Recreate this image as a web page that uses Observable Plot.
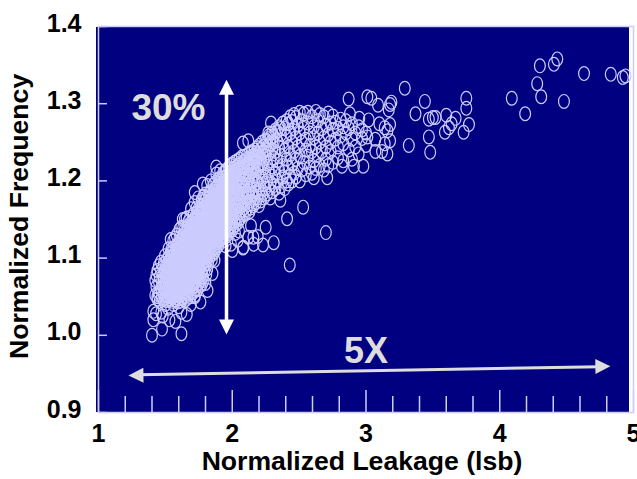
<!DOCTYPE html>
<html><head><meta charset="utf-8">
<style>html,body{margin:0;padding:0;background:#fff}svg{display:block}</style>
<script src="https://cdn.jsdelivr.net/npm/d3@7"></script>
<script src="https://cdn.jsdelivr.net/npm/@observablehq/plot@0.6"></script>
</head><body><div id="chart"></div>
<script>
const xTicks=[1,2,3,4,5];
const xMinor=[1.2,1.4,1.6,1.8,2.2,2.4,2.6,2.8,3.2,3.4,3.6,3.8,4.2,4.4,4.6,4.8];
const yTicks=[0.9,1.0,1.1,1.2,1.3,1.4];
// Isolated points read one at a time: [leakage, frequency]
const tailLow=[[1.40,1.0],[1.475,1.008],[1.62,1.002],[1.41,1.02],[1.41,1.031],[1.575,1.018],[1.45,1.053],[1.66,1.027],[1.48,1.025],[1.53,1.02],[1.50,1.04],[1.56,1.04],[1.47,1.03],[1.52,1.035],[1.60,1.037],[1.62,1.03],[1.43,1.028],[1.44,1.05],[1.69,1.04],[1.72,1.05]];
const tailHigh=[[4.43,1.358],[4.405,1.351],[4.30,1.349],[4.63,1.339],[4.83,1.338],[4.92,1.334],[4.94,1.336],[4.28,1.326],[4.31,1.309],[4.09,1.307],[4.48,1.303],[4.19,1.287],[3.29,1.320],[3.44,1.303],[3.75,1.307],[3.75,1.294],[3.37,1.287],[3.47,1.280],[3.50,1.282],[3.52,1.282],[3.60,1.285],[3.67,1.281],[3.64,1.274],[3.62,1.269],[3.59,1.263],[3.77,1.273],[3.73,1.263],[3.47,1.257],[3.32,1.246],[3.48,1.237]];
const tailMid=[[2.87,1.306],[3.01,1.309],[3.04,1.307],[3.09,1.298],[3.19,1.302],[3.18,1.299],[3.17,1.292],[2.88,1.287],[3.02,1.279],[2.95,1.281],[3.18,1.273],[3.10,1.274],[3.14,1.269],[3.16,1.265],[3.01,1.257],[3.07,1.254],[3.18,1.252],[3.14,1.248],[3.07,1.238],[3.12,1.238],[3.16,1.235],[2.98,1.219],[2.91,1.219],[2.82,1.219],[2.71,1.204],[2.61,1.204],[2.53,1.166],[2.41,1.151],[2.70,1.133],[2.43,1.091],[2.29,1.275],[2.31,1.120],[2.23,1.117],[2.08,1.113],[2.19,1.128],[2.25,1.14],[2.12,1.127],[2.36,1.175],[2.16,1.118],[2.08,1.249],[2.12,1.252],[2.15,1.232],[1.72,1.185],[1.88,1.218],[2.02,1.132],[1.99,1.118],[2.05,1.135],[2.14,1.142],[1.867,1.097],[2.084,1.114],[2.158,1.127],[2.04,1.123],[1.852,1.08],[1.815,1.058],[1.762,1.043],[1.95,1.116],[2.0,1.11],[2.27,1.262],[1.54,1.124],[1.63,1.15],[1.78,1.196]];
// Cloud rows: first number is the leakage, the rest are the frequencies seen at about that leakage
const cloudLow=[
[1.425,1.052,1.071],[1.433,1.063,1.078],[1.441,1.047,1.084],[1.452,1.056,1.069,1.09],[1.458,1.044,1.076],[1.467,1.061,1.083,1.095],[1.474,1.049,1.07,1.058],[1.483,1.088,1.046,1.064,1.077],
[1.489,1.053,1.073,1.093],[1.497,1.048,1.061,1.082,1.103,1.069],[1.504,1.056,1.09,1.075,1.064],[1.511,1.045,1.085,1.098,1.067],[1.518,1.059,1.072,1.051,1.093,1.08],[1.524,1.066,1.101,1.088,1.112,1.046,1.076],
[1.532,1.054,1.083,1.07,1.095,1.061],[1.538,1.106,1.047,1.078,1.09,1.063,1.099],[1.545,1.057,1.073,1.085,1.05,1.102,1.068,1.111],[1.551,1.094,1.062,1.08,1.044,1.107,1.072],
[1.559,1.087,1.055,1.066,1.098,1.076,1.113,1.05,1.122],[1.564,1.071,1.104,1.059,1.083,1.094,1.046,1.065],[1.572,1.09,1.051,1.078,1.126,1.109,1.062,1.098,1.07],[1.579,1.084,1.056,1.115,1.045,1.073,1.101,1.067,1.093],
[1.585,1.062,1.108,1.079,1.048,1.13,1.089,1.097,1.07,1.117],[1.592,1.052,1.075,1.103,1.064,1.086,1.112,1.043,1.095],[1.598,1.08,1.058,1.118,1.069,1.1,1.091,1.047,1.107],[1.606,1.073,1.096,1.051,1.126,1.084,1.061,1.113,1.103,1.137],
[1.612,1.088,1.067,1.109,1.044,1.077,1.12,1.055,1.097],[1.619,1.06,1.102,1.082,1.14,1.071,1.115,1.093,1.049,1.125],[1.625,1.076,1.053,1.107,1.087,1.065,1.098,1.119],[1.633,1.094,1.048,1.071,1.128,1.083,1.112,1.06,1.103,1.139],
[1.639,1.056,1.118,1.078,1.09,1.066,1.108,1.131,1.099],[1.646,1.084,1.045,1.122,1.07,1.102,1.137,1.061,1.093,1.114,1.15],[1.652,1.074,1.127,1.051,1.097,1.087,1.11,1.065,1.118],[1.659,1.104,1.08,1.057,1.134,1.092,1.122,1.07,1.152,1.114],
[1.665,1.062,1.099,1.128,1.086,1.048,1.141,1.076,1.107,1.119],[1.672,1.091,1.054,1.116,1.069,1.136,1.104,1.083,1.147,1.126],[1.679,1.075,1.123,1.095,1.059,1.11,1.087,1.133,1.066],[1.685,1.103,1.05,1.141,1.08,1.118,1.094,1.128,1.072,1.153],
[1.692,1.065,1.112,1.088,1.134,1.164,1.098,1.056,1.124,1.146,1.079],[1.698,1.107,1.073,1.092,1.13,1.062,1.118,1.14,1.084],[1.706,1.097,1.055,1.125,1.078,1.148,1.109,1.069,1.136],[1.712,1.115,1.087,1.144,1.063,1.102,1.157,1.129,1.074,1.093],
[1.719,1.082,1.122,1.052,1.138,1.106,1.172,1.094,1.149,1.068,1.113],[1.725,1.099,1.076,1.127,1.085,1.142,1.117,1.06,1.153],[1.733,1.108,1.071,1.134,1.09,1.123,1.15,1.081,1.165],[1.739,1.093,1.145,1.059,1.116,1.103,1.159,1.131,1.075],
[1.746,1.086,1.126,1.178,1.098,1.067,1.14,1.11,1.152,1.079,1.163],[1.752,1.12,1.073,1.147,1.094,1.134,1.105,1.157,1.084],[1.759,1.101,1.064,1.162,1.128,1.088,1.115,1.142,1.077],[1.766,1.137,1.09,1.154,1.108,1.072,1.168,1.123,1.097,1.147],
[1.773,1.082,1.129,1.176,1.112,1.143,1.066,1.16,1.1,1.135],[1.779,1.117,1.093,1.15,1.076,1.168,1.126,1.106,1.139,1.158],[1.786,1.088,1.145,1.122,1.18,1.071,1.102,1.156,1.132,1.112],[1.792,1.164,1.096,1.136,1.084,1.12,1.152,1.174,1.107,1.144],
[1.799,1.128,1.067,1.16,1.092,1.183,1.114,1.141,1.103,1.15],[1.806,1.079,1.135,1.17,1.122,1.097,1.155,1.11,1.146,1.178],[1.813,1.145,1.086,1.125,1.194,1.161,1.104,1.135,1.173,1.116],[1.819,1.157,1.093,1.118,1.14,1.129,1.168,1.109,1.15],
[1.826,1.106,1.165,1.134,1.12,1.148,1.178,1.099,1.158],[1.833,1.143,1.113,1.186,1.127,1.16,1.172,1.138,1.103,1.153],[1.84,1.122,1.2,1.15,1.108,1.166,1.132,1.18,1.143],[1.847,1.138,1.156,1.116,1.175,1.126,1.163,1.147,1.098],
[1.853,1.105,1.17,1.148,1.134,1.184,1.158,1.121,1.141],[1.86,1.165,1.128,1.195,1.112,1.152,1.176,1.138,1.187,1.145],[1.867,1.119,1.157,1.142,1.181,1.17,1.132,1.162,1.108],[1.874,1.19,1.137,1.15,1.115,1.174,1.198,1.126,1.163,1.144],
[1.881,1.16,1.124,1.209,1.18,1.143,1.168,1.154,1.19,1.113],[1.888,1.134,1.175,1.148,1.12,1.186,1.162,1.141,1.193],[1.895,1.17,1.127,1.157,1.138,1.18,1.148,1.197,1.116],[1.902,1.151,1.188,1.122,1.165,1.203,1.14,1.175,1.131,1.158],
[1.91,1.18,1.135,1.213,1.16,1.146,1.192,1.124,1.17,1.2],[1.917,1.143,1.168,1.128,1.154,1.185,1.196,1.137,1.175],[1.924,1.16,1.15,1.19,1.122,1.178,1.14,1.203,1.168],[1.932,1.131,1.183,1.21,1.155,1.17,1.145,1.197,1.126,1.162],
[1.939,1.175,1.142,1.162,1.188,1.136,1.204,1.152,1.129],[1.946,1.19,1.155,1.168,1.212,1.146,1.18,1.133,1.198,1.175],[1.954,1.14,1.172,1.16,1.192,1.15,1.206,1.183,1.128],[1.961,1.165,1.215,1.148,1.178,1.135,1.199,1.158,1.187],
[1.968,1.188,1.153,1.17,1.143,1.208,1.164,1.132,1.195],[1.976,1.16,1.137,1.18,1.217,1.15,1.2,1.172,1.19],[1.983,1.147,1.193,1.166,1.139,1.21,1.178,1.156],[1.991,1.175,1.204,1.152,1.22,1.185,1.141,1.163,1.197]
];
const cloudMid=[
[1.999,1.16,1.136,1.222,1.192,1.176,1.212,1.148,1.2],[2.008,1.183,1.155,1.216,1.168,1.205,1.141,1.194],[2.017,1.204,1.163,1.224,1.148,1.186,1.212,1.175],[2.026,1.173,1.218,1.19,1.153,1.21,1.143,1.197],
[2.035,1.162,1.214,1.183,1.226,1.2,1.15,1.172],[2.044,1.192,1.146,1.22,1.167,1.208,1.178],[2.053,1.158,1.228,1.198,1.175,1.215,1.185,1.15],[2.062,1.21,1.168,1.222,1.192,1.152,1.218],
[2.071,1.18,1.2,1.231,1.162,1.214,1.172],[2.08,1.195,1.156,1.224,1.208,1.184,1.218],[2.089,1.165,1.218,1.176,1.232,1.2,1.19],[2.098,1.212,1.158,1.226,1.185,1.172,1.203],
[2.108,1.195,1.233,1.163,1.222,1.178,1.208],[2.118,1.169,1.216,1.229,1.188,1.224,1.2],[2.128,1.208,1.16,1.236,1.18,1.22,1.195],[2.138,1.174,1.23,1.215,1.19,1.226,1.165],
[2.148,1.2,1.228,1.182,1.238,1.212,1.17],[2.158,1.224,1.188,1.233,1.168,1.206,1.218],[2.168,1.178,1.218,1.24,1.196,1.229],[2.178,1.21,1.172,1.236,1.225,1.186,1.232],
[2.19,1.198,1.234,1.243,1.178,1.216],[2.2,1.222,1.185,1.246,1.205,1.236,1.168],[2.212,1.19,1.23,1.241,1.213,1.174],[2.224,1.236,1.182,1.25,1.203,1.222],
[2.236,1.195,1.245,1.217,1.178,1.238],[2.248,1.232,1.19,1.253,1.208,1.242],[2.26,1.2,1.24,1.183,1.252,1.222],[2.272,1.213,1.258,1.19,1.236],
[2.285,1.248,1.198,1.226,1.178,1.256],[2.298,1.206,1.262,1.24,1.186,1.218],[2.31,1.25,1.194,1.258,1.23],[2.323,1.21,1.266,1.238,1.19],
[2.336,1.252,1.2,1.226,1.264],[2.35,1.214,1.27,1.244,1.184],[2.364,1.233,1.193,1.26,1.268],[2.378,1.25,1.205,1.275,1.22]
];
const cloudUpper=[
[2.392,1.24,1.19,1.268,1.212],[2.406,1.258,1.2,1.278,1.228],[2.42,1.218,1.274,1.244,1.196],[2.434,1.262,1.206,1.234,1.283],[2.448,1.25,1.2,1.277,1.222],[2.462,1.238,1.268,1.21,1.286],
[2.476,1.256,1.205,1.282,1.228],[2.49,1.216,1.272,1.244],[2.505,1.262,1.2,1.289,1.232],[2.52,1.25,1.278,1.214],[2.535,1.224,1.268,1.287],[2.55,1.208,1.254,1.24],[2.565,1.275,1.232,1.289],
[2.58,1.218,1.262,1.246],[2.595,1.283,1.238,1.21],[2.61,1.256,1.27,1.226],[2.625,1.29,1.244,1.216],[2.64,1.262,1.233,1.278],[2.655,1.25,1.286,1.22],[2.67,1.268,1.238],[2.685,1.214,1.256,1.283],
[2.7,1.272,1.244,1.228],[2.718,1.26,1.288,1.22],[2.735,1.238,1.275,1.25],[2.752,1.266,1.224,1.284],[2.77,1.254,1.276],[2.79,1.23,1.268,1.244],[2.81,1.28,1.258],[2.83,1.226,1.27,1.248],
[2.85,1.262,1.278],[2.872,1.24,1.268],[2.895,1.254,1.274,1.228],[2.92,1.262,1.244],[2.945,1.27,1.235],[2.97,1.255,1.266],[3.0,1.246,1.262]
];
const pairs=[...tailLow,...tailHigh,...tailMid];
const rows=[...cloudLow,...cloudMid,...cloudUpper];
const points=[...pairs.map(([leak,freq])=>({leak,freq})),...rows.flatMap(([leak,...fs])=>fs.map(freq=>({leak,freq})))];
const ringColor="#ccccff", navy="#000080";
const ellipse={draw(c){const a=5.4,b=6.9,k=0.5523;c.moveTo(a,0);c.bezierCurveTo(a,k*b,k*a,b,0,b);c.bezierCurveTo(-k*a,b,-a,k*b,-a,0);c.bezierCurveTo(-a,-k*b,-k*a,-b,0,-b);c.bezierCurveTo(k*a,-b,a,-k*b,a,0);c.closePath();}};
const head={draw(c){c.moveTo(0,0);c.lineTo(7.5,15);c.lineTo(-7.5,15);c.closePath();}};
const font="Liberation Sans, Arial, sans-serif";
const chart=Plot.plot({
 width:637,height:479,marginLeft:98,marginRight:4,marginTop:26,marginBottom:67,
 style:{background:"#fff",fontFamily:font,overflow:"visible"},
 x:{domain:[1,5],label:null},y:{domain:[0.9,1.4],label:null},
 marks:[
  Plot.rect([{a:1,b:4.97,c:0.9,d:1.4}],{x1:"a",x2:"b",y1:"c",y2:"d",fill:navy,insetLeft:-2,insetTop:1}),
  Plot.frame({stroke:ringColor,strokeWidth:1.5}),
  Plot.ruleY(yTicks,{x1:1,x2:1.067,stroke:ringColor,strokeWidth:1.5}),
  Plot.ruleX(xTicks,{y1:0.9,y2:0.9285,stroke:ringColor,strokeWidth:1.5}),
  Plot.ruleX(xMinor,{y1:0.9,y2:0.9207,stroke:ringColor,strokeWidth:1.5}),
  Plot.dot(points,{x:"leak",y:"freq",symbol:ellipse,r:6,stroke:ringColor,strokeWidth:1.2,fill:"none"}),
  Plot.link([{a:1.957,b:1.32,c:1.01}],{x1:"a",x2:"a",y1:"b",y2:"c",stroke:"#fff",strokeWidth:3.5}),
  Plot.dot([{a:1.957,b:1.331,r:0},{a:1.957,b:1.001,r:180}],{x:"a",y:"b",rotate:"r",symbol:head,r:6,fill:"#fff",stroke:"none"}),
  Plot.link([{a:1.3,b:0.9488,c:4.75,d:0.9593}],{x1:"a",y1:"b",x2:"c",y2:"d",stroke:"#dddddd",strokeWidth:3}),
  Plot.dot([{a:1.224,b:0.948,r:-91},{a:4.827,b:0.96,r:89}],{x:"a",y:"b",rotate:"r",symbol:head,r:6,fill:"#dddddd",stroke:"none"}),
  Plot.text(["30%"],{x:1.523,y:1.294,text:d=>d,fontSize:37,fontWeight:"bold",fill:"#dddddd"}),
  Plot.text(["5X"],{x:3.0,y:0.979,text:d=>d,fontSize:36,fontWeight:"bold",fill:"#dddddd"}),
  Plot.axisX(xTicks,{tickSize:0,tickPadding:12,fontSize:25,fontWeight:"bold",fill:"#000",label:null,tickFormat:d=>String(d)}),
  Plot.axisY(yTicks,{tickSize:0,tickPadding:17,dy:-3,fontSize:25,fontWeight:"bold",fill:"#000",label:null,tickFormat:d=>d.toFixed(1)}),
  Plot.text(["Normalized Leakage (lsb)"],{x:2.97,y:0.9,dy:49,text:d=>d,fontSize:26.6,fontWeight:"bold",fill:"#000"}),
  Plot.text(["Normalized Frequency"],{x:1,y:1.154,dx:-79,rotate:-90,text:d=>d,fontSize:26.6,fontWeight:"bold",fill:"#000"})
 ]});
document.getElementById("chart").append(chart);
</script></body></html>
